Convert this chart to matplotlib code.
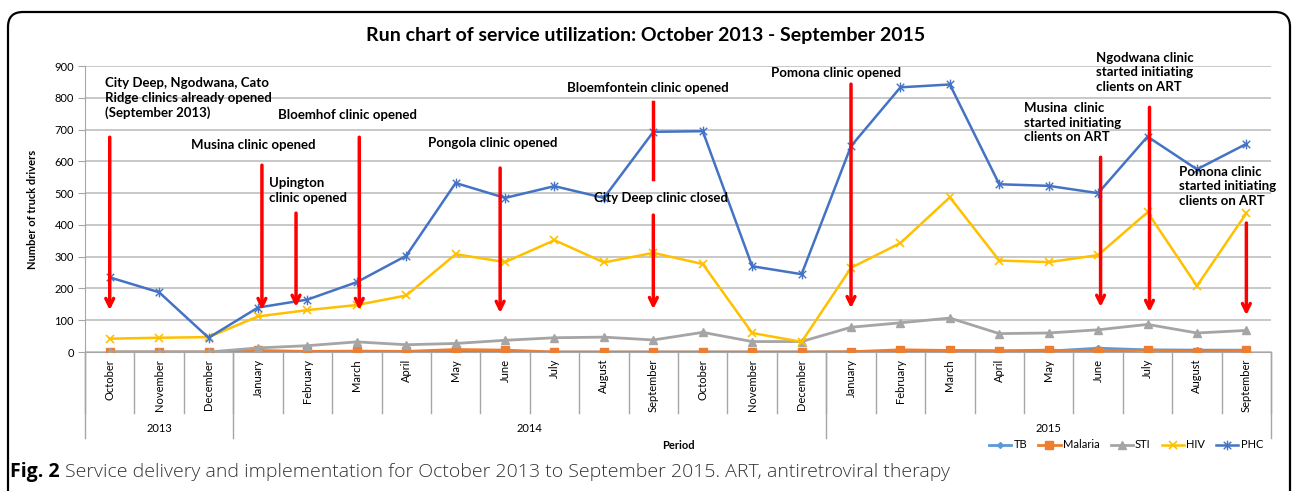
import matplotlib
matplotlib.use('Agg')
import matplotlib.pyplot as plt
from matplotlib.patches import FancyBboxPatch
from matplotlib.path import Path
import matplotlib.transforms as mtransforms

plt.rcParams['font.family'] = ['Lato', 'DejaVu Sans']

months = ['October', 'November', 'December',
          'January', 'February', 'March', 'April', 'May', 'June', 'July',
          'August', 'September', 'October', 'November', 'December',
          'January', 'February', 'March', 'April', 'May', 'June', 'July',
          'August', 'September']
years = ['2013', '2014', '2015']
year_counts = [3, 12, 9]

tb = [0, 0, 0, 0, 0, 0, 0, 3, 0, 0, 0, 0, 0, 0, 0, 0, 2, 4, 3, 3, 12, 7, 6, 6]
malaria = [0, 0, 0, 5, 2, 3, 2, 8, 6, 0, 0, 0, 0, 0, 0, 1, 7, 5, 4, 6, 2, 6, 1, 5]
sti = [0, 0, 0, 13, 20, 32, 23, 27, 37, 45, 47, 38, 62, 33, 33, 78, 92, 107,
       58, 60, 70, 87, 60, 68]
hiv = [42, 45, 47, 112, 132, 148, 178, 308, 283, 352, 282, 312, 277, 60, 32,
       265, 343, 487, 288, 283, 305, 440, 208, 437]
phc = [235, 188, 45, 140, 165, 220, 303, 532, 485, 522, 485, 693, 695, 270,
       245, 648, 833, 842, 528, 523, 500, 678, 575, 655]

# event notes: (text, x, y) and arrows: (x, top, tip)
notes = [
    ('City Deep, Ngodwana, Cato\nRidge clinics already opened\n(September 2013)', -0.1, 799),
    ('Musina clinic opened', 1.64, 651),
    ('Upington\nclinic opened', 3.22, 508),
    ('Bloemhof clinic opened', 3.4, 746),
    ('Pongola clinic opened', 6.44, 658),
    ('Bloemfontein clinic opened', 9.26, 831),
    ('City Deep clinic closed', 9.8, 485),
    ('Pomona clinic opened', 13.39, 878),
    ('Ngodwana clinic\nstarted initiating\nclients on ART', 19.95, 881),
    ('Musina  clinic\nstarted initiating\nclients on ART', 18.5, 721),
    ('Pomona clinic\nstarted initiating\nclients on ART', 21.63, 522),
]
arrows = [
    (0, 676, 132), (3.08, 588, 132), (3.77, 437, 142), (5.05, 676, 132),
    (7.9, 579, 123), (11, 431, 135), (15, 843, 138), (20.05, 613, 142),
    (21.04, 770, 126), (23, 406, 116),
]
bloem_line = (11, 786, 544)

# excel-like star marker: x with a vertical bar
star = Path([(-1, -1), (1, 1), (-1, 1), (1, -1), (0, -1.3), (0, 1.3)],
            [Path.MOVETO, Path.LINETO] * 3)

fig = plt.figure(figsize=(12.92, 4.91), dpi=100)
ax = fig.add_axes([0.0658, 0.283, 0.918, 0.5825])

x = list(range(len(months)))
ax.plot(x, tb, color='#5B9BD5', marker='D', ms=3, lw=2, label='TB', zorder=3)
ax.plot(x, malaria, color='#ED7D31', marker='s', ms=6, lw=2, label='Malaria', zorder=3)
ax.plot(x, sti, color='#A5A5A5', marker='^', ms=6, lw=2, label='STI', zorder=3)
ax.plot(x, hiv, color='#FFC000', marker='x', ms=6, mew=1.2, lw=1.8, label='HIV', zorder=3)
ax.plot(x, phc, color='#4472C4', marker=star, ms=7, mew=1, lw=1.8, label='PHC', zorder=3)

ax.set_xlim(-0.5, len(months) - 0.5)
ax.set_ylim(0, 900)
ax.set_yticks(range(0, 901, 100))
ax.grid(axis='y', color='#BFBFBF', lw=1.2)
ax.set_axisbelow(True)
for s in ['top', 'right']:
    ax.spines[s].set_visible(False)
ax.spines['left'].set_color('#A6A6A6')
ax.spines['bottom'].set_color('#A6A6A6')
ax.tick_params(axis='y', length=5, color='#A6A6A6', labelsize=8, pad=3)
ax.set_xticks(x)
ax.set_xticklabels(months, rotation=90, fontsize=8, va='top')
ax.tick_params(axis='x', length=0, pad=5)
ax.set_ylabel('Number of truck drivers', fontsize=8, fontweight='bold', labelpad=12)
ax.text(0.5, -0.328, 'Period', transform=ax.transAxes, ha='center', va='center',
        fontsize=8, fontweight='bold')

# category separators
trans = mtransforms.blended_transform_factory(ax.transData, ax.transAxes)
for i in range(len(months) + 1):
    ax.plot([i - 0.5, i - 0.5], [0, -0.213], color='#A6A6A6', lw=1,
            transform=trans, clip_on=False)
start = 0
for yr, n in zip(years, year_counts):
    ax.plot([start - 0.5, start - 0.5], [0, -0.3], color='#A6A6A6', lw=1,
            transform=trans, clip_on=False)
    ax.text(start + (n - 1) / 2, -0.266, yr, transform=trans, ha='center',
            va='center', fontsize=8)
    start += n
ax.plot([start - 0.5, start - 0.5], [0, -0.3], color='#A6A6A6', lw=1,
        transform=trans, clip_on=False)

for txt, tx, ty in notes:
    ax.text(tx, ty, txt, fontsize=9.5, fontweight='bold', ha='left',
            va='center', linespacing=1.25, zorder=5)

for ax_x, top, tip in arrows:
    ax.annotate('', xy=(ax_x, tip), xytext=(ax_x, top),
                arrowprops=dict(arrowstyle='->', color='red', lw=2.5,
                                mutation_scale=14, shrinkA=0, shrinkB=0),
                zorder=4)
ax.plot([bloem_line[0], bloem_line[0]], bloem_line[1:], color='red', lw=2.5, zorder=4)

ax.legend(loc='center right', bbox_to_anchor=(0.997, -0.325), ncol=5,
          frameon=False, fontsize=8, handlelength=2, columnspacing=1.0,
          handletextpad=0.2, borderaxespad=0)

fig.text(0.5, 0.927, 'Run chart of service utilization: October 2013 - September 2015',
         ha='center', va='center', fontsize=14, fontweight='bold')

cap = fig.text(10 / 1292, 19 / 491, 'Fig. 2', fontsize=14, fontweight='bold',
               family=['Open Sans', 'DejaVu Sans'], va='center')
ax.annotate('Service delivery and implementation for October 2013 to September 2015. '
            'ART, antiretroviral therapy', xy=(1, 0.5), xycoords=cap,
            xytext=(4, 0), textcoords='offset points', va='center',
            fontsize=14, fontweight='light', family=['Open Sans', 'DejaVu Sans'],
            color='#333333', annotation_clip=False)

box = FancyBboxPatch((0.08, -0.3), 12.82, 5.09,
                     boxstyle='round,pad=0,rounding_size=0.15',
                     transform=fig.dpi_scale_trans, fill=False,
                     ec='black', lw=1.6)
fig.add_artist(box)

fig.savefig('out.png', dpi=100)
